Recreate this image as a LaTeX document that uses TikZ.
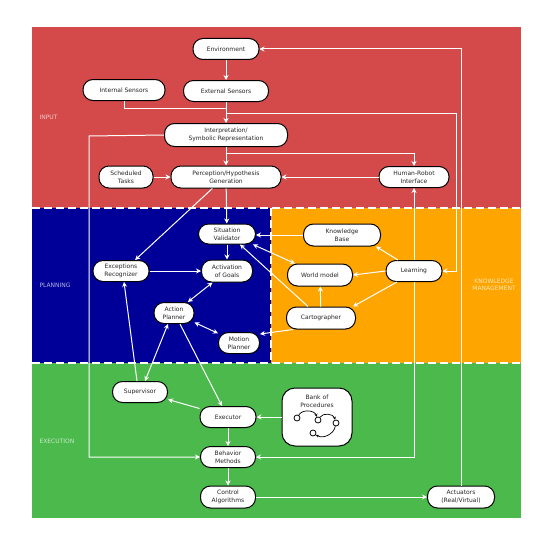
\documentclass[tikz,border=0pt]{standalone}
\usepackage{fontspec}
\setmainfont{DejaVu Sans}
\usepackage{tikz}
\usetikzlibrary{arrows.meta,positioning}

\definecolor{inred}{RGB}{212,74,74}
\definecolor{plblue}{RGB}{0,0,153}
\definecolor{kmorange}{RGB}{255,165,0}
\definecolor{exgreen}{RGB}{75,185,75}

\tikzset{
  blk/.style={draw=black,line width=1pt,fill=white,rounded corners=10pt,
    minimum height=21pt,inner sep=1pt,align=center,text=black!85,
    font=\fontsize{6}{7.6}\selectfont},
  wire/.style={draw=white,line width=1pt},
  arr/.style={wire,-{Stealth[length=5pt,width=5pt]}},
  biarr/.style={wire,{Stealth[length=5pt,width=5pt]}-{Stealth[length=5pt,width=5pt]}},
  zone/.style={text=white,opacity=0.7,align=center,font=\fontsize{6}{7.6}\selectfont},
  sep/.style={white,line width=1.6pt,dash pattern=on 8pt off 4pt},
  pdot/.style={circle,draw=black,line width=0.8pt,fill=white,minimum size=6pt,inner sep=0pt},
  parr/.style={draw=black,line width=0.7pt,-{Stealth[length=3pt,width=3pt]}}
}

\begin{document}
\begin{tikzpicture}[x=1pt,y=-1pt]
   \useasboundingbox (0,0) rectangle (546,543);
   \fill[white] (0,0) rectangle (546,543);
   % regions
   \fill[inred] (32,27) rectangle (521,208);
   \fill[plblue] (32,208) rectangle (271,363);
   \fill[kmorange] (271,208) rectangle (521,363);
   \fill[exgreen] (32,363) rectangle (521,518);
   \draw[sep] (32,208) -- (521,208);
   \draw[sep] (32,363) -- (521,363);
   \draw[sep] (271,208) -- (271,363);
   \node[zone,anchor=west] (lin) at (36,117) {INPUT};
   \node[zone,anchor=west] (lpl) at (36,285) {PLANNING};
   \node[zone,anchor=west] (lex) at (36,441) {EXECUTION};
   \node[zone] (lkm) at (494,285) {KNOWLEDGE\\MANAGEMENT};

   % input
   \node[blk,minimum width=66pt] (env) at (226,49) {Environment};
   \node[blk,minimum width=82pt] (ints) at (124,90) {Internal Sensors};
   \node[blk,minimum width=85pt] (ext) at (226,91) {External Sensors};
   \node[blk,minimum width=123pt,minimum height=23pt] (interp) at (226,135) {Interpretation/\\Symbolic Representation};
   \node[blk,minimum width=54pt,minimum height=22pt] (sched) at (126,177) {Scheduled\\Tasks};
   \node[blk,minimum width=110pt,minimum height=22pt] (perc) at (226,177) {Perception/Hypothesis\\Generation};
   \node[blk,minimum width=70pt] (hri) at (414,177) {Human-Robot\\Interface};

   % planning
   \node[blk,minimum width=57pt,minimum height=20pt] (sv) at (227,234) {Situation\\Validator};
   \node[blk,minimum width=56pt] (exc) at (121,271) {Exceptions\\Recognizer};
   \node[blk,minimum width=51pt,minimum height=22pt] (aog) at (227,271) {Activation\\of Goals};
   \node[blk,minimum width=40pt] (ap) at (174,313) {Action\\Planner};
   \node[blk,minimum width=41pt] (mp) at (239,343) {Motion\\Planner};

   % knowledge management
   \node[blk,minimum width=77pt,minimum height=22pt] (kb) at (342,235) {Knowledge\\Base};
   \node[blk,minimum width=65pt,minimum height=22pt] (wm) at (320,275) {World model};
   \node[blk,minimum width=56pt] (learn) at (414,271) {Learning};
   \node[blk,minimum width=69pt,minimum height=22pt] (carto) at (321,318) {Cartographer};

   % execution
   \node[blk,minimum width=55pt] (sup) at (140,392) {Supervisor};
   \node[blk,minimum width=56pt] (exe) at (228,417) {Executor};
   \node[blk,minimum width=70pt,minimum height=58pt,rounded corners=13pt] (bank) at (317,417) {};
   \node[align=center,text=black!85,font=\fontsize{6}{7.6}\selectfont] (banktxt) at (317,401) {Bank of\\Procedures};
   \node[pdot] (p1) at (297,418) {};
   \node[pdot] (p2) at (318,420) {};
   \node[pdot] (p3) at (336,423) {};
   \node[pdot] (p4) at (313,433) {};
   \draw[parr] (p1) to[bend left=65] (p2);
   \draw[parr] (p2) to[bend left=65] (p3);
   \draw[parr] (p3) to[bend left=55] (p4);
   \node[blk,minimum width=55pt] (beh) at (228,457) {Behavior\\Methods};
   \node[blk,minimum width=55pt,minimum height=22pt] (ctrl) at (228,497) {Control\\Algorithms};
   \node[blk,minimum width=67pt,minimum height=22pt] (act) at (461,497) {Actuators\\(Real/Virtual)};

   \coordinate (j1) at (226,108);
   \coordinate (j2) at (226,113);
   \coordinate (k2) at (456,113);
   \coordinate (j3) at (226,153);
   \coordinate (lft) at (89,136);

   % connectors
   \draw[arr] (env) -- (ext);
   \draw[wire] (ints.south) |- (j1);
   \draw[arr] (ext) -- (interp);
   \draw[arr] (j2) -- (k2) |- (learn.east);
   \draw[arr] (act.north) |- (env.east);
   \draw[arr] (interp.west) -- (lft) |- (beh.west);
   \draw[arr] (interp) -- (perc);
   \draw[arr] (j3) -| (hri.north);
   \draw[arr] (sched) -- (perc);
   \draw[arr] (hri) -- (perc);
   \draw[arr] (perc.-140) -- (exc.38);
   \draw[arr] (perc) -- (sv);
   \draw[arr] (sv) -- (aog);
   \draw[arr] (exc) -- (aog);
   \draw[biarr] (aog) -- (ap);
   \draw[biarr] (ap) -- (mp);
   \draw[arr] (kb.west) -- (sv.east |- kb.west);
   \draw[arr] ([xshift=-16pt]learn.north) -- ([xshift=34pt]kb.south);
   \draw[arr] (learn.west) -- (wm.east);
   \draw[arr] ([xshift=-17pt]learn.south) -- ([xshift=-3pt]carto.north east);
   \draw[arr] (carto) -- (wm);
   \draw[arr] ([xshift=-28pt]carto.south) -- ([yshift=-2pt]mp.north east);
   \draw[biarr] ([xshift=-3pt]sv.south east) -- ([xshift=8pt]wm.north west);
   \draw[arr] ([xshift=-13pt]carto.north) -- ([xshift=13pt]sv.south);
   \draw[arr] (learn) -- (hri);
   \draw[arr] (learn.south) |- (beh.east);
   \draw[arr] ([xshift=-3pt]sup.north) -- ([xshift=3pt]exc.south);
   \draw[biarr] ([xshift=-6pt]ap.south) -- ([xshift=5pt]sup.north);
   \draw[arr] ([xshift=6pt]ap.south) -- ([xshift=-6pt]exe.north);
   \draw[arr] ([yshift=-2.5pt]exe.north west) -- ([yshift=3.5pt]sup.south east);
   \draw[arr] (bank) -- (exe);
   \draw[arr] (exe) -- (beh);
   \draw[arr] (beh) -- (ctrl);
   \draw[arr] (ctrl) -- (act);
\end{tikzpicture}
\end{document}
